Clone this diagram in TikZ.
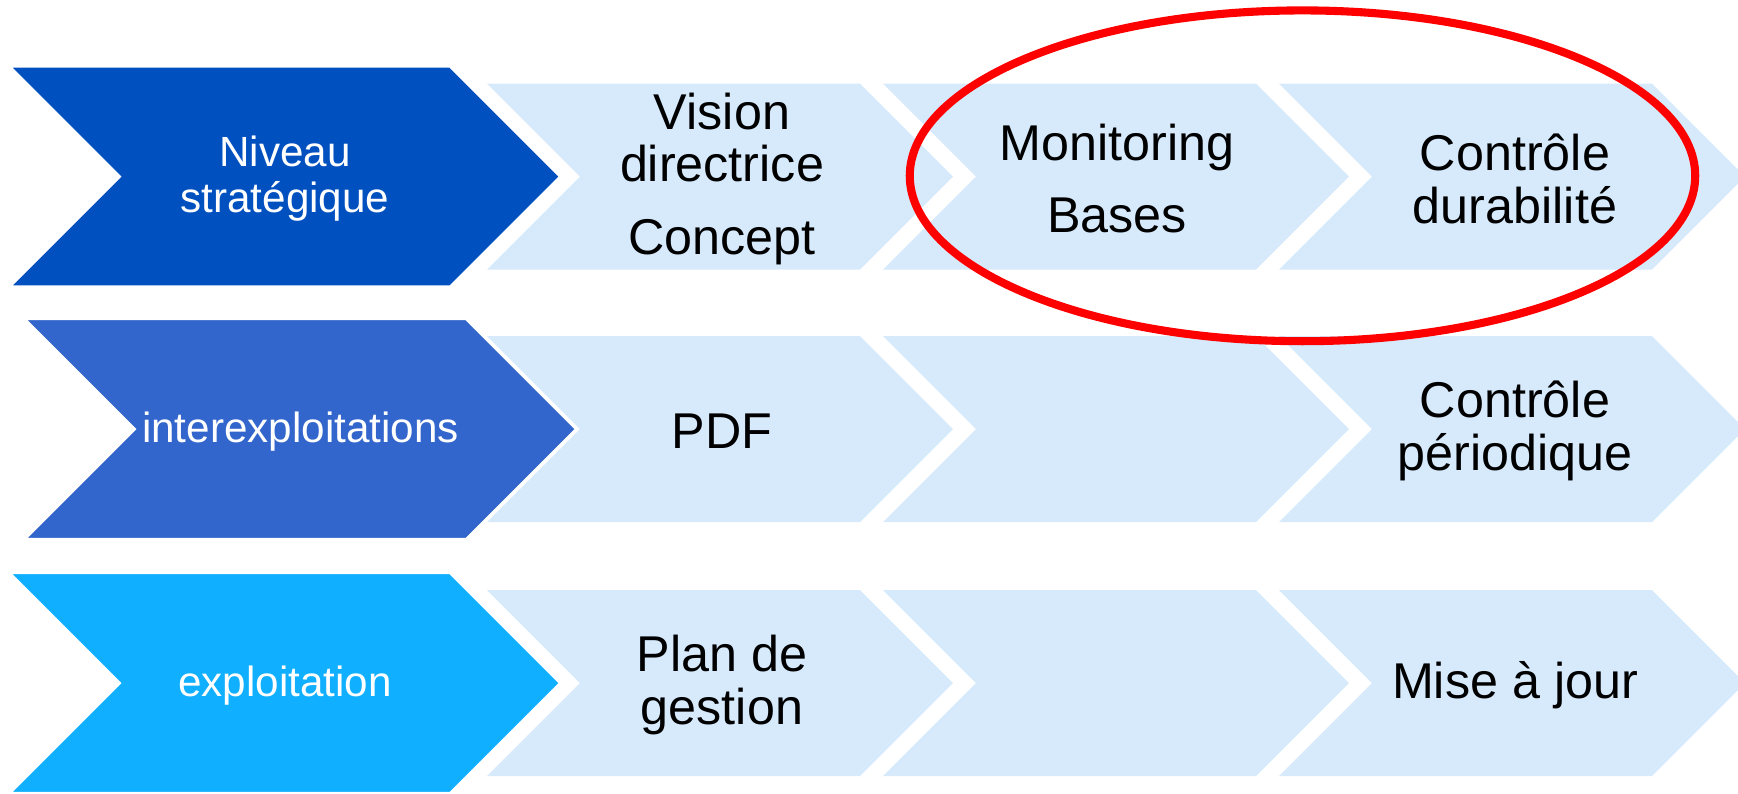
\documentclass[tikz,border=0pt]{standalone}
\usepackage{fontspec}
\setmainfont{Liberation Sans}
\definecolor{levelone}{HTML}{0050C0}
\definecolor{leveltwo}{HTML}{3366CC}
\definecolor{levelthree}{HTML}{10AFFF}
\definecolor{steplight}{HTML}{D6EAFC}
\definecolor{focusred}{HTML}{FF0000}
\begin{document}
\begin{tikzpicture}[x=0.01cm,y=-0.01cm]
	\tikzstyle{levelbox}=[draw=white,line width=0.6pt,line join=miter]
	\tikzstyle{stepbox}=[fill=steplight]
	%\tikzstyle{stepbox}=[fill=steplight,draw=white,line width=0.6pt]
	\tikzstyle{leveltext}=[text=white,align=center,inner sep=0pt,yshift=-0.6pt,font=\fontsize{12}{12.9}\selectfont]
	\tikzstyle{steptext}=[text=black,align=center,inner sep=0pt,yshift=-0.6pt,font=\fontsize{14.3}{15}\selectfont]
	\tikzstyle{focus}=[draw=focusred,line width=2.3pt]
	\useasboundingbox (0,0) rectangle (1738,793);
	% light steps, row 1
	\fill[stepbox] (487,83.5) -- (860,83.5) -- (953,176.5) -- (860,269.5) -- (487,269.5) -- (580,176.5) -- cycle;
	\fill[stepbox] (883,83.5) -- (1256,83.5) -- (1349,176.5) -- (1256,269.5) -- (883,269.5) -- (976,176.5) -- cycle;
	\fill[stepbox] (1279,83.5) -- (1652,83.5) -- (1745,176.5) -- (1652,269.5) -- (1279,269.5) -- (1372,176.5) -- cycle;
	% light steps, row 2
	\fill[stepbox] (487,336) -- (860,336) -- (953,429) -- (860,522) -- (487,522) -- (580,429) -- cycle;
	\fill[stepbox] (883,336) -- (1256,336) -- (1349,429) -- (1256,522) -- (883,522) -- (976,429) -- cycle;
	\fill[stepbox] (1279,336) -- (1652,336) -- (1745,429) -- (1652,522) -- (1279,522) -- (1372,429) -- cycle;
	% light steps, row 3
	\fill[stepbox] (487,590) -- (860,590) -- (953,683) -- (860,776) -- (487,776) -- (580,683) -- cycle;
	\fill[stepbox] (883,590) -- (1256,590) -- (1349,683) -- (1256,776) -- (883,776) -- (976,683) -- cycle;
	\fill[stepbox] (1279,590) -- (1652,590) -- (1745,683) -- (1652,776) -- (1279,776) -- (1372,683) -- cycle;
	% levels
	\filldraw[levelbox,fill=levelone] (10,66.5) -- (450,66.5) -- (560,176.5) -- (450,286.5) -- (10,286.5) -- (120,176.5) -- cycle;
	\filldraw[levelbox,fill=leveltwo] (25,319) -- (466,319) -- (576,429) -- (466,539) -- (25,539) -- (135,429) -- cycle;
	\filldraw[levelbox,fill=levelthree] (10,573) -- (450,573) -- (560,683) -- (450,793) -- (10,793) -- (120,683) -- cycle;
	\node[leveltext] (strategic) at (285,176.5) {Niveau\\stratégique};
	\node[leveltext] (inter) at (300.5,429) {interexploitations};
	\node[leveltext] (farm) at (285,683) {exploitation};
	\node[steptext] (vision) at (722,176.5) {Vision\\directrice\\[5.5pt]Concept};
	\node[steptext] (monitoring) at (1117,176.5) {Monitoring\\[5.5pt]Bases};
	\node[steptext] (durability) at (1515,176.5) {Contrôle\\durabilité};
	\node[steptext] (pdf) at (722,429) {PDF};
	\node[steptext] (periodic) at (1515,429) {Contrôle\\périodique};
	\node[steptext] (plan) at (722,683) {Plan de\\gestion};
	\node[steptext] (update) at (1515,683) {Mise à jour};
	\draw[focus] (1302.5,175.8) ellipse [x radius=3.925cm,y radius=1.653cm];
\end{tikzpicture}
\end{document}
